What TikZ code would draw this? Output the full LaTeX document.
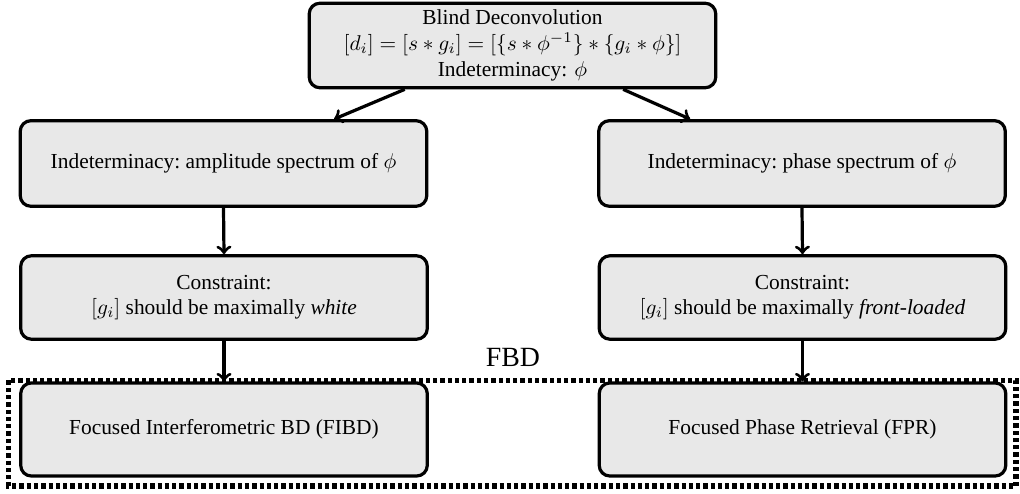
\documentclass[tikz,border=0pt]{standalone}
\usepackage{fontspec}
\setmainfont{Liberation Serif}
\usetikzlibrary{calc}
\tikzset{
  box/.style={draw, line width=1.5pt, rounded corners=5pt, fill=black!9, align=center, inner sep=0pt, minimum width=190pt},
  arr/.style={->, line width=1.5pt},
  fbdframe/.style={draw, line width=2.4pt, dash pattern=on 2pt off 1.4pt}
}
\begin{document}
\begin{tikzpicture}[x=0.4673pt, y=-0.4673pt]
\useasboundingbox (0,0) rectangle (1020,494);
\node[box, minimum height=39.5pt] (top) at (512.5,45.5) {Blind Deconvolution\\ $[d_i]=[s*g_i]=[\{s*\phi^{-1}\}*\{g_i*\phi\}]$\\ Indeterminacy: $\phi$};
\node[box, minimum height=40pt] (L2) at (223.5,163.5) {Indeterminacy:\ amplitude spectrum of $\phi$};
\node[box, minimum height=40pt] (R2) at (802,163.5) {Indeterminacy:\ phase spectrum of $\phi$};
\node[box, minimum height=39pt] (L3) at (224,297.5) {Constraint:\\ $[g_i]$ should be maximally \textit{white}};
\node[box, minimum height=39pt] (R3) at (802.5,297.5) {Constraint:\\ $[g_i]$ should be maximally \textit{front-loaded}};
\node[box, minimum height=43.5pt] (L4) at (224,429.5) {Focused Interferometric BD (FIBD)};
\node[box, minimum height=43.5pt] (R4) at (802.5,429.5) {Focused Phase Retrieval (FPR)};
\draw[fbdframe] (8.5,380.5) rectangle (1016,486);
\node[anchor=base, inner sep=0pt, font=\fontsize{13}{15}\selectfont] (fbd) at (513,367) {FBD};
\draw[arr] ($(top.south west)!0.237!(top.south east)$) -- ($(L2.north west)!0.77!(L2.north east)$);
\draw[arr] ($(top.south west)!0.77!(top.south east)$) -- ($(R2.north west)!0.227!(R2.north east)$);
\draw[arr] (L2.south) -- (L3.north);
\draw[arr] (R2.south) -- (R3.north);
\draw[arr] (L3.south) -- (L4.north);
\draw[arr] (R3.south) -- (R4.north);
\end{tikzpicture}
\end{document}
